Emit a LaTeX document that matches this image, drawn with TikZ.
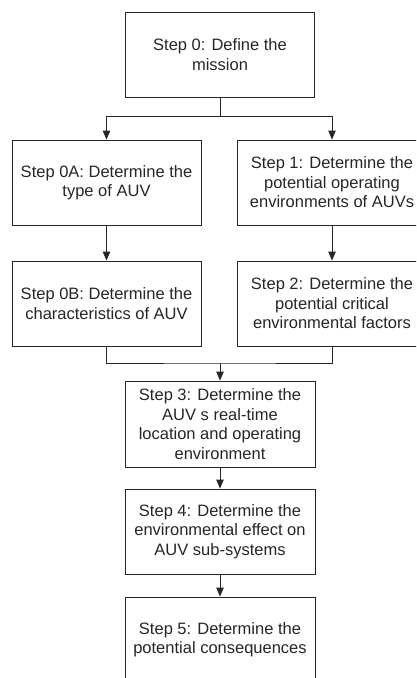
\documentclass[tikz,border=0pt]{standalone}
\usepackage{fontspec}
\setmainfont{Liberation Sans}
\usetikzlibrary{arrows.meta}
\begin{document}
\begin{tikzpicture}[x=1pt,y=-1pt,
  stepbox/.style={draw=black!85, line width=0.9pt, rectangle, inner sep=0pt,
    minimum width=189pt, minimum height=85pt, align=center, text=black!85,
    font=\fontsize{16.5}{19.5}\selectfont},
  link/.style={draw=black!85, line width=0.9pt},
  flow/.style={link, -{Triangle[width=7.5pt,length=9pt]}}]
\clip (0,0) rectangle (416,678);
\fill[white] (0,0) rectangle (416,678);

% boxes
\node[stepbox] (top) at (220,54.5) {Step 0: Define the\\mission};
\node[stepbox] (s0a) at (106.5,182.5) {Step 0A: Determine the\\type of AUV};
\node[stepbox, minimum width=190pt] (s1) at (332,182.5) {Step 1: Determine the\\potential operating\\environments of AUVs};
\node[stepbox] (s0b) at (106.5,303.5) {Step 0B: Determine the\\characteristics of AUV};
\node[stepbox, minimum width=190pt] (s2) at (332,303.5) {Step 2: Determine the\\potential critical\\environmental factors};
\node[stepbox, minimum width=190pt, minimum height=86pt] (s3) at (220,424) {Step 3: Determine the\\AUV s real-time\\location and operating\\environment};
\node[stepbox, minimum width=190pt] (s4) at (220,531.5) {Step 4: Determine the\\environmental effect on\\AUV sub-systems};
\node[stepbox, minimum width=190pt] (s5) at (220,639.5) {Step 5: Determine the\\potential consequences};

% split below the mission
\coordinate (split) at (220,116);
\draw[link] (top.south) -- (split);
\draw[flow] (split) -| (s0a.north);
\draw[flow] (split) -| (s1.north);

% the two branches
\draw[flow] (s0a.south) -- (s0b.north);
\draw[flow] (s1.south) -- (s2.north);

% merge into step 3
\coordinate (merge) at (220,363);
\draw[link] (s0b.south) |- (merge) -| (s2.south);
\draw[flow] (merge) -- (s3.north);

% main chain
\draw[flow] (s3.south) -- (s4.north);
\draw[flow] (s4.south) -- (s5.north);
\end{tikzpicture}
\end{document}
